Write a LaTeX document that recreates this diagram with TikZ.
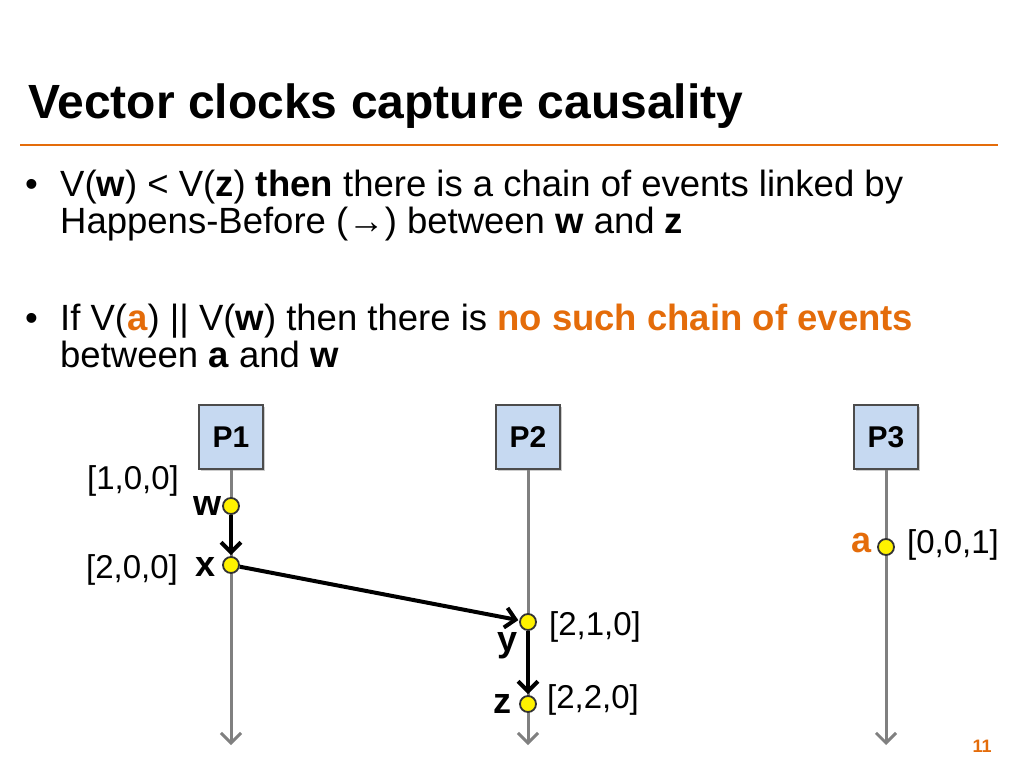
\documentclass[tikz,border=0pt]{standalone}
\usepackage{fontspec}
\setmainfont{Liberation Sans}
\usetikzlibrary{arrows.meta,shadows}
\definecolor{org}{RGB}{228,108,10}
\definecolor{pblue}{RGB}{198,217,241}
\begin{document}
\begin{tikzpicture}[x=1pt,y=-1pt,
  proc/.style={draw=black!70,line width=1.5pt,fill=pblue,minimum width=64pt,minimum height=64pt,font=\fontsize{30}{34}\selectfont\bfseries,drop shadow={shadow xshift=2pt,shadow yshift=-2pt,opacity=0.4}},
  tl/.style={draw=gray,line width=3pt,-{Straight Barb[length=10pt,width=20pt]}},
  ev/.style={circle,draw=black!80,fill=yellow,line width=1.8pt,minimum size=16pt,inner sep=0pt},
  ar/.style={draw=black,line width=4pt,-{Straight Barb[length=10pt,width=20pt]},shorten >=1pt},
  lab/.style={font=\fontsize{33}{36}\selectfont,inner sep=0pt},
  blab/.style={font=\fontsize{36}{36}\selectfont\bfseries,inner sep=0pt},
  txt/.style={font=\fontsize{36.5}{40}\selectfont,anchor=base west,inner sep=0pt}]
\useasboundingbox (0,0) rectangle (1024,768);
\node[anchor=base west,inner sep=0pt,font=\fontsize{48}{52}\selectfont\bfseries] (title) at (28,118) {Vector clocks capture causality};
\draw[org,line width=2.5pt] (20,145) -- (998,145);
\node[txt] (b1) at (25,196) {•};
\node[txt] (t1) at (60,196) {V(\textbf{w}) < V(\textbf{z}) \textbf{then} there is a chain of events linked by};
\node[txt] (t2) at (60,233) {Happens-Before (\textbf{→}) between \textbf{w} and \textbf{z}};
\node[txt] (b2) at (25,330) {•};
\node[txt] (t3) at (60,330) {If V(\textcolor{org}{\textbf{a}}) || V(\textbf{w}) then there is \textcolor{org}{\textbf{no such chain of events}}};
\node[txt] (t4) at (60,367) {between \textbf{a} and \textbf{w}};
\node[proc] (p1) at (231,437) {P1};
\node[proc] (p2) at (528,437) {P2};
\node[proc] (p3) at (886,437) {P3};
\coordinate (e1) at (231,745);
\coordinate (e2) at (528,745);
\coordinate (e3) at (886,745);
\draw[tl] (p1.south) -- (e1);
\draw[tl] (p2.south) -- (e2);
\draw[tl] (p3.south) -- (e3);
\node[ev] (w) at (231,506) {};
\node[ev] (x) at (231,565) {};
\node[ev] (y) at (528,622) {};
\node[ev] (z) at (528,704) {};
\node[ev] (a) at (886,547) {};
\draw[ar] (w) -- (x);
\draw[ar] (x) -- (y);
\draw[ar] (y) -- (z);
\node[lab] (lw) at (133,481) {[1,0,0]};
\node[blab] (nw) at (207,506) {w};
\node[lab] (lx) at (132,570) {[2,0,0]};
\node[blab] (nx) at (206,567) {x};
\node[blab] (ny) at (508,646) {y};
\node[lab] (ly) at (595,627) {[2,1,0]};
\node[blab] (nz) at (502,704) {z};
\node[lab] (lz) at (593,700) {[2,2,0]};
\node[blab,text=org] (na) at (861,543) {a};
\node[lab] (la) at (953,545) {[0,0,1]};
\node[font=\fontsize{18}{20}\selectfont\bfseries,text=org] (pg) at (982,746) {11};
\end{tikzpicture}
\end{document}
